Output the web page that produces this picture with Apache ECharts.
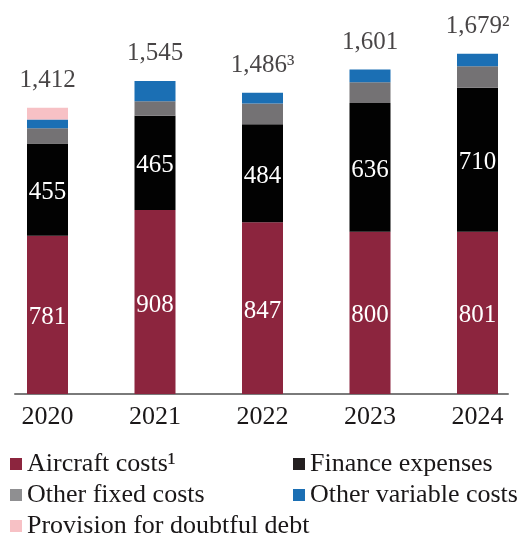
<!DOCTYPE html>
<html>
<head>
<meta charset="utf-8">
<script src="https://cdn.jsdelivr.net/npm/echarts@6/dist/echarts.min.js"></script>
<style>html,body{margin:0;padding:0;background:#fff}#c{width:527px;height:537px}</style>
</head>
<body>
<div id="c"></div>
<script>
const years = ['2020', '2021', '2022', '2023', '2024'];
const aircraftCosts = [781, 908, 847, 800, 801];
const financeExpenses = [455, 465, 484, 636, 710];
const otherFixedCosts = [75, 72, 102, 102, 106];
const otherVariableCosts = [43, 100, 53, 63, 62];
const provisionDoubtfulDebt = [58, 0, 0, 0, 0];
const totals = [1412, 1545, 1486, 1601, 1679];
const totalLabels = ['1,412', '1,545', '1,486\u00B3', '1,601', '1,679\u00B2'];
const seriesNames = ['Aircraft costs\u00B9', 'Finance expenses', 'Other fixed costs', 'Other variable costs', 'Provision for doubtful debt'];

const FONT = 'Liberation Serif';
const TXT = '#1a1718';
const colors = ['#8c253e', '#020202', '#747274', '#1b6fb4', '#f7c1c5'];
const legendColors = ['#8c253e', '#231f20', '#8f8f91', '#1b6fb4', '#f7c1c5'];

const valueSets = [aircraftCosts, financeExpenses, otherFixedCosts, otherVariableCosts, provisionDoubtfulDebt];

const barSeries = valueSets.map((vals, k) => ({
  name: seriesNames[k],
  type: 'bar',
  stack: 'total',
  barWidth: 41,
  xAxisIndex: 0,
  yAxisIndex: 0,
  data: vals,
  itemStyle: { color: colors[k] },
  label: {
    show: k < 2,
    position: 'inside',
    offset: [0, 3],
    color: '#ffffff',
    fontFamily: FONT,
    fontSize: 25
  },
  emphasis: { disabled: true }
}));

// legend positions: [left, top]
const legendPos = [[5, 446], [288, 446], [5, 477], [288, 477], [5, 508]];
const legends = seriesNames.map((n, k) => ({
  left: legendPos[k][0], top: legendPos[k][1],
  icon: 'rect', itemWidth: 12, itemHeight: 12,
  selectedMode: false,
  data: [{ name: n, itemStyle: { color: legendColors[k] } }],
  textStyle: { fontFamily: FONT, fontSize: 26, color: TXT, lineHeight: 26 }
}));

const chart = echarts.init(document.getElementById('c'), null, { renderer: 'canvas' });
chart.setOption({
  animation: false,
  grid: [
    { left: -6.25, right: -4.25, top: 13, bottom: 143, outerBoundsMode: 'none', containLabel: false },
    { left: 15, right: 19, top: 13, bottom: 143, outerBoundsMode: 'none', containLabel: false }
  ],
  xAxis: [
    {
      type: 'category',
      gridIndex: 0,
      data: years,
      axisTick: { show: false },
      axisLine: { show: false },
      axisLabel: { fontFamily: FONT, fontSize: 26, color: TXT, margin: 10 }
    },
    {
      type: 'value',
      gridIndex: 1,
      min: 0, max: 1,
      splitLine: { show: false },
      axisTick: { show: false },
      axisLabel: { show: false },
      axisLine: { show: true, lineStyle: { color: '#7a7a7a', width: 2 } }
    }
  ],
  yAxis: [
    { type: 'value', gridIndex: 0, min: 0, max: 1880, show: false },
    { type: 'value', gridIndex: 1, min: 0, max: 1, show: false }
  ],
  legend: legends,
  series: barSeries.concat([{
    name: 'Total',
    type: 'scatter',
    symbolSize: 0,
    data: totals,
    silent: true,
    z: 10,
    label: {
      show: true,
      position: 'top',
      distance: 15,
      fontFamily: FONT,
      fontSize: 25,
      lineHeight: 25,
      color: TXT,
      formatter: p => totalLabels[p.dataIndex]
    }
  }])
});
</script>
</body>
</html>
